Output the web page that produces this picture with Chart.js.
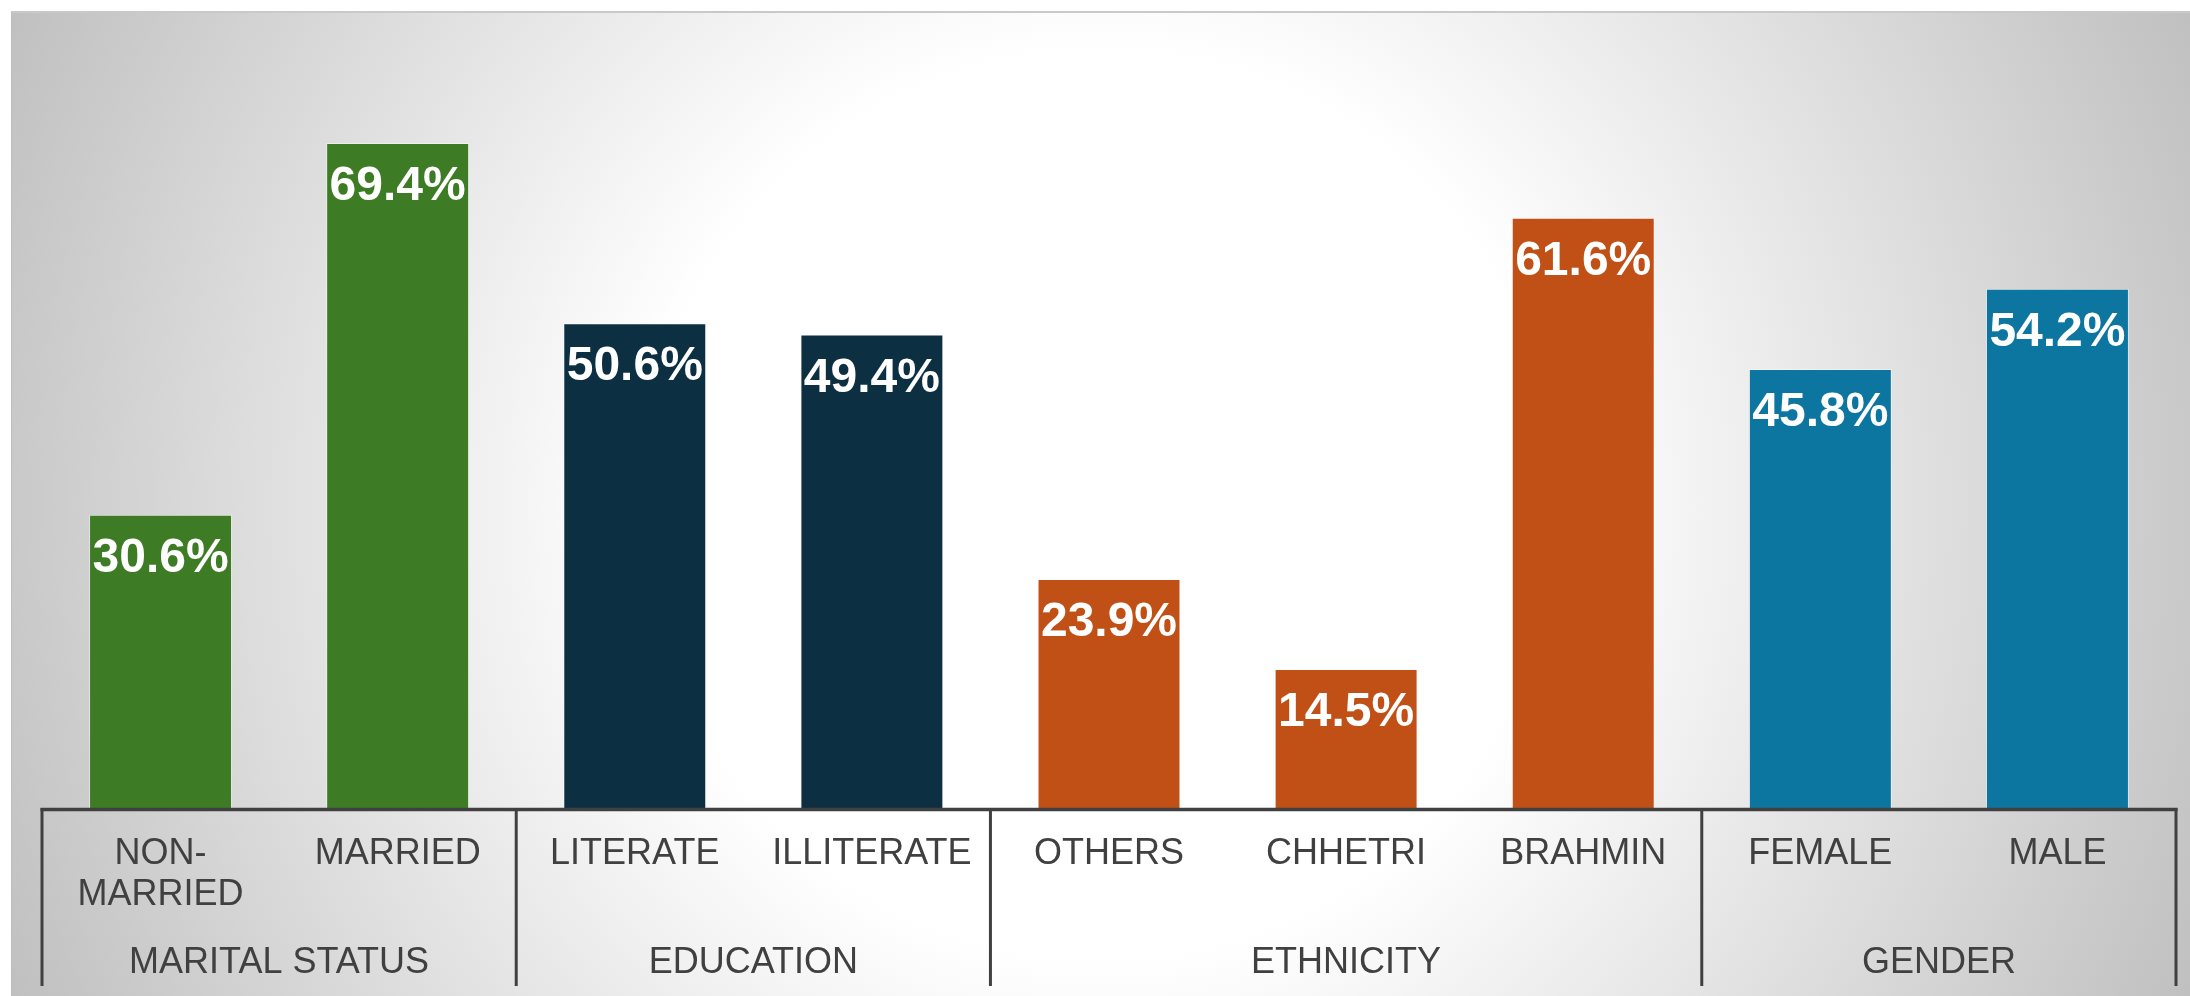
<!DOCTYPE html>
<html>
<head>
<meta charset="utf-8">
<title>Respondent profile</title>
<script src="https://cdn.jsdelivr.net/npm/chart.js@4/dist/chart.umd.min.js"></script>
<style>
  html, body { margin: 0; padding: 0; background: #ffffff; }
  #wrap { position: relative; width: 2190px; height: 996px; overflow: hidden; }
  #panel {
    position: absolute; left: 11px; top: 11px; right: 0; bottom: 0;
    border-top: 2px solid #c9c9c9;
    border-left: 1px solid #bdbdbd;
    background: radial-gradient(circle farthest-corner at 50% 50%, #ffffff 0%, #ffffff 38%, #c0c0c0 100%);
  }
  #chart { position: absolute; left: 0; top: 0; }
</style>
</head>
<body>
<div id="wrap">
  <div id="panel"></div>
  <canvas id="chart" width="2190" height="996"></canvas>
</div>
<script>
// Category labels (multi-line where the label wraps)
const categories = [
  ['NON-', 'MARRIED'], 'MARRIED',
  'LITERATE', 'ILLITERATE',
  'OTHERS', 'CHHETRI', 'BRAHMIN',
  'FEMALE', 'MALE'
];

// Share of respondents in each category (%)
const shares = [30.6, 69.4, 50.6, 49.4, 23.9, 14.5, 61.6, 45.8, 54.2];

// Grouping of categories along the axis
const groupNames = ['MARITAL STATUS', 'EDUCATION', 'ETHNICITY', 'GENDER'];
const groupSizes = [2, 2, 3, 2];

// One fill colour per group
const groupColors = ['#3d7c24', '#0c2f42', '#c05016', '#0c76a0'];

const barColors = [];
groupSizes.forEach((n, g) => { for (let i = 0; i < n; i++) barColors.push(groupColors[g]); });

const FONT = '"Liberation Sans", Arial, sans-serif';
const TEXT_COLOR = '#404040';

// Value labels inside the top of each bar
const valueLabels = {
  id: 'valueLabels',
  afterDatasetsDraw(chart) {
    const ctx = chart.ctx;
    const meta = chart.getDatasetMeta(0);
    ctx.save();
    ctx.font = 'bold 48px ' + FONT;
    ctx.fillStyle = '#ffffff';
    ctx.textAlign = 'center';
    ctx.textBaseline = 'alphabetic';
    meta.data.forEach((bar, i) => {
      ctx.fillText(shares[i].toFixed(1) + '%', bar.x, bar.y + 57);
    });
    ctx.restore();
  }
};

// Axis line, group dividers and group titles below the category labels
const groupAxis = {
  id: 'groupAxis',
  afterDraw(chart) {
    const ctx = chart.ctx;
    const x = chart.scales.x;
    const area = chart.chartArea;
    const step = x.getPixelForValue(1) - x.getPixelForValue(0);
    const bottom = 986;
    ctx.save();
    ctx.strokeStyle = TEXT_COLOR;

    // horizontal axis line
    ctx.lineWidth = 3.5;
    ctx.beginPath();
    ctx.moveTo(area.left - 1.5, area.bottom + 1.5);
    ctx.lineTo(area.right + 1.5, area.bottom + 1.5);
    ctx.stroke();

    // group dividers and titles
    ctx.lineWidth = 3;
    ctx.font = '36px ' + FONT;
    ctx.fillStyle = TEXT_COLOR;
    ctx.textAlign = 'center';
    ctx.textBaseline = 'middle';
    let start = 0;
    const edges = [];
    groupSizes.forEach((n, g) => {
      const left = x.getPixelForValue(start) - step / 2;
      const right = x.getPixelForValue(start + n - 1) + step / 2;
      edges.push(left);
      if (g === groupSizes.length - 1) edges.push(right);
      ctx.fillText(groupNames[g], (left + right) / 2, 963);
      start += n;
    });
    edges.forEach(e => {
      ctx.beginPath();
      ctx.moveTo(e, area.bottom);
      ctx.lineTo(e, bottom);
      ctx.stroke();
    });
    ctx.restore();
  }
};

new Chart(document.getElementById('chart'), {
  type: 'bar',
  data: {
    labels: categories,
    datasets: [{
      data: shares,
      backgroundColor: barColors,
      borderColor: 'rgba(255,255,255,0.45)',
      borderWidth: 1,
      barPercentage: 0.603,
      categoryPercentage: 1
    }]
  },
  options: {
    responsive: false,
    animation: false,
    events: [],
    layout: { padding: { left: 42, right: 14, top: 41.4, bottom: 0 } },
    plugins: {
      legend: { display: false },
      tooltip: { enabled: false }
    },
    scales: {
      y: {
        display: false,
        min: 0,
        max: 80
      },
      x: {
        grid: { display: false, drawTicks: false },
        border: { display: false },
        ticks: {
          color: TEXT_COLOR,
          font: { family: FONT, size: 36, lineHeight: 41 / 36 },
          padding: 25.5,
          maxRotation: 0,
          autoSkip: false
        },
        afterFit(scale) { scale.height = 188; }
      }
    }
  },
  plugins: [valueLabels, groupAxis]
});
</script>
</body>
</html>
